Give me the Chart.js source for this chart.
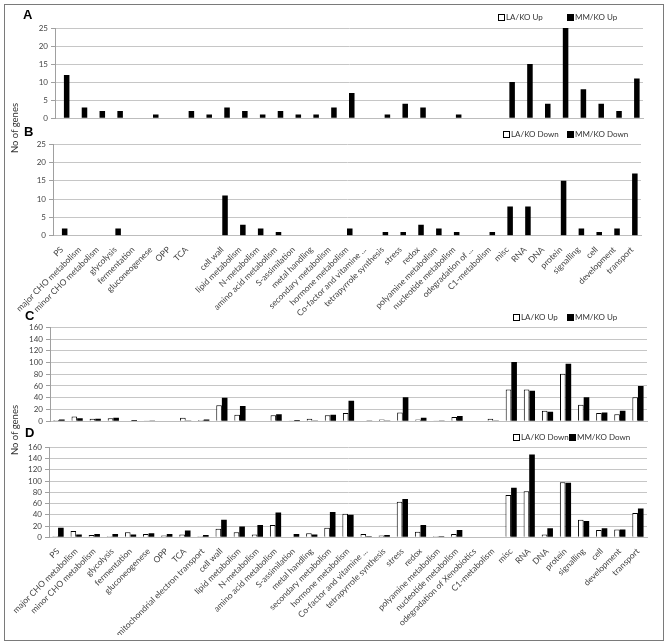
<!DOCTYPE html>
<html>
<head>
<meta charset="utf-8">
<script src="https://cdn.jsdelivr.net/npm/chart.js@4"></script>
<style>
  body { margin: 0; background: #fff; }
  #fig { position: relative; width: 666px; height: 644px; font-family: Lato, "Open Sans", sans-serif; }
  #fig canvas { position: absolute; left: 0; }
  .frame { position: absolute; left: 4px; top: 4px; width: 658px; height: 635px; border: 1px solid #7a7a7a; }
  .letter { position: absolute; font: bold 13px/13px "Liberation Sans", Arial, sans-serif; color: #000; }
  .ylab { position: absolute; left: 14px; font-size: 9.5px; color: #333; white-space: nowrap;
          transform: translate(-50%, -50%) rotate(-90deg); }
  .legend { position: absolute; font-size: 8px; line-height: 8px; color: #333; white-space: nowrap; }
  .legend i { display: inline-block; width: 5px; height: 5px; border: 1px solid #000; margin-right: 1px; vertical-align: -1px; }
  .legend i.fill { background: #000; }
</style>
</head>
<body>
<div id="fig">
  <div class="frame"></div>
  <canvas id="chartA" width="666" height="108" style="top:18px"></canvas>
  <canvas id="chartB" width="666" height="190" style="top:126px"></canvas>
  <canvas id="chartC" width="666" height="112" style="top:317px"></canvas>
  <canvas id="chartD" width="666" height="205" style="top:430px"></canvas>

  <div class="letter" style="left:23px;top:8px">A</div>
  <div class="letter" style="left:24px;top:125px">B</div>
  <div class="letter" style="left:25px;top:309px">C</div>
  <div class="letter" style="left:25px;top:426px">D</div>

  <div class="ylab" style="top:128px">No of genes</div>
  <div class="ylab" style="top:430px">No of genes</div>

  <div class="legend" style="left:498px;top:13px"><i></i>LA/KO Up</div>
  <div class="legend" style="left:567px;top:13px"><i class="fill"></i>MM/KO Up</div>
  <div class="legend" style="left:503px;top:130px"><i></i>LA/KO Down</div>
  <div class="legend" style="left:567px;top:130px"><i class="fill"></i>MM/KO Down</div>
  <div class="legend" style="left:513px;top:313px"><i></i>LA/KO Up</div>
  <div class="legend" style="left:567px;top:313px"><i class="fill"></i>MM/KO Up</div>
  <div class="legend" style="left:513px;top:433px"><i></i>LA/KO Down</div>
  <div class="legend" style="left:569px;top:433px"><i class="fill"></i>MM/KO Down</div>
</div>

<script>
// functional categories (MapMan bins)
const categories = [
    'PS', 'major CHO metabolism', 'minor CHO metabolism', 'glycolysis', 'fermentation',
    'gluconeogenese', 'OPP', 'TCA', 'mitochondrial electron transport', 'cell wall',
    'lipid metabolism', 'N-metabolism', 'amino acid metabolism', 'S-assimilation',
    'metal handling', 'secondary metabolism', 'hormone metabolism', 'Co-factor and vitamine ...',
    'tetrapyrrole synthesis', 'stress', 'redox', 'polyamine metabolism', 'nucleotide metabolism',
    'odegradation of Xenobiotics', 'C1-metabolism', 'misc', 'RNA', 'DNA', 'protein',
    'signalling', 'cell', 'development', 'transport'
]
// tick labels as printed under panel B
const labelsB = [
    'PS', 'major CHO metabolism', 'minor CHO metabolism', 'glycolysis', 'fermentation',
    'gluconeogenese', 'OPP', 'TCA', '', 'cell wall',
    'lipid metabolism', 'N-metabolism', 'amino acid metabolism', 'S-assimilation',
    'metal handling', 'secondary metabolism', 'hormone metabolism', 'Co-factor and vitamine ...',
    'tetrapyrrole synthesis', 'stress', 'redox', 'polyamine metabolism', 'nucleotide metabolism',
    'odegradation of ...', 'C1-metabolism', 'misc', 'RNA', 'DNA', 'protein',
    'signalling', 'cell', 'development', 'transport'
]

// A: up-regulated (small set)
const laUpA = [0,0,0,0,0,0,0,0,0,0,0,0,0,0,0,0,0,0,0,0,0,0,0,0,0,0,0,0,0,0,0,0,0]
const mmUpA = [12,3,2,2,0,1,0,2,1,3,2,1,2,1,1,3,7,0,1,4,3,0,1,0,0,10,15,4,25,8,4,2,11]
// B: down-regulated (small set)
const laDownB = [0,0,0,0,0,0,0,0,0,0,0,0,0,0,0,0,0,0,0,0,0,0,0,0,0,0,0,0,0,0,0,0,0]
const mmDownB = [2,0,0,2,0,0,0,0,0,11,3,2,1,0,0,0,2,0,1,1,3,2,1,0,1,8,8,0,15,2,1,2,17]
// C: up-regulated
const laUpC = [2,8,4,5,0,1,0,6,2,27,11,0,10,1,4,10,14,0,3,15,3,1,7,0,4,54,54,18,81,28,14,12,41]
const mmUpC = [3,5,4,6,2,1,0,1,3,40,26,0,12,2,1,11,35,1,1,41,6,1,9,0,1,101,52,16,98,41,15,18,60]
// D: down-regulated
const laDownD = [2,11,4,2,9,6,3,5,2,15,9,5,22,0,7,17,42,6,3,63,10,2,6,1,0,75,82,5,98,31,13,14,43]
const mmDownD = [17,5,6,6,5,7,6,12,4,31,19,22,44,6,5,45,40,2,4,68,22,2,13,1,0,88,147,16,97,29,16,14,51]

const yFont = { family: 'Lato, "Open Sans", sans-serif', size: 8 }
const xFont = { family: 'Lato, "Open Sans", sans-serif', size: 8.5 }

function panel(id, labels, la, mm, names, cfg) {
    return new Chart(document.getElementById(id), {
        type: 'bar',
        data: {
            labels: labels,
            datasets: [{
                label: names[0],
                data: la,
                backgroundColor: '#fff',
                borderColor: '#000',
                borderWidth: 1
            }, {
                label: names[1],
                data: mm,
                backgroundColor: '#000',
                borderWidth: 0
            }]
        },
        options: {
            responsive: false,
            animation: false,
            layout: { padding: { top: cfg.top, right: cfg.right, bottom: cfg.bottom, left: 0 } },
            datasets: { bar: { categoryPercentage: 0.62, barPercentage: 1 } },
            plugins: {
                legend: { display: false },
                tooltip: { enabled: false }
            },
            scales: {
                x: {
                    grid: { display: false },
                    border: { color: '#bdbdbd' },
                    ticks: {
                        display: cfg.showLabels,
                        autoSkip: false,
                        minRotation: 45,
                        maxRotation: 45,
                        padding: 1,
                        font: xFont,
                        color: '#444'
                    },
                    afterFit: s => { s.height = cfg.xh }
                },
                y: {
                    min: 0,
                    max: cfg.max,
                    ticks: { stepSize: cfg.step, autoSkip: false, font: yFont, color: '#444', padding: 3 },
                    grid: { color: '#c6c6c6', tickLength: 4, tickColor: '#a0a0a0' },
                    border: { color: '#a0a0a0' },
                    afterFit: s => { s.width = cfg.yw }
                }
            }
        }
    })
}

panel('chartA', categories, laUpA, mmUpA, ['LA/KO Up', 'MM/KO Up'],
    { top: 10, bottom: 6, right: 23, yw: 55, xh: 0, max: 25, step: 5, showLabels: false })
panel('chartB', labelsB, laDownB, mmDownB, ['LA/KO Down', 'MM/KO Down'],
    { top: 18.3, bottom: 0, right: 25, yw: 53, xh: 80.3, max: 25, step: 5, showLabels: true })
panel('chartC', categories, laUpC, mmUpC, ['LA/KO Up', 'MM/KO Up'],
    { top: 10.3, bottom: 5, right: 19, yw: 50, xh: 0, max: 160, step: 20, showLabels: false })
panel('chartD', categories, laDownD, mmDownD, ['LA/KO Down', 'MM/KO Down'],
    { top: 17.3, bottom: 0, right: 19, yw: 49, xh: 97.7, max: 160, step: 20, showLabels: true })
</script>
</body>
</html>
